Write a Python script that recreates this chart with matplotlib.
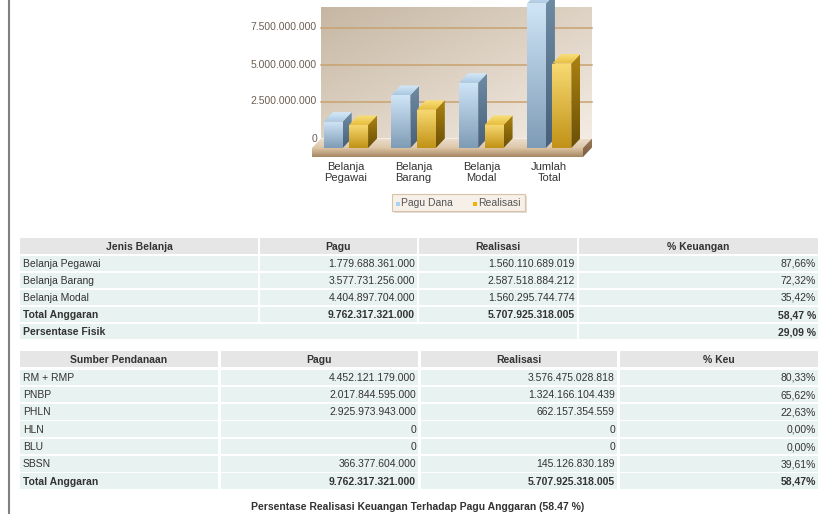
import numpy as np
import matplotlib.pyplot as plt
from matplotlib.patches import Rectangle, Polygon
from matplotlib.colors import to_rgb

plt.rcParams['font.family'] = ['Liberation Sans', 'DejaVu Sans']

# chart data (chart values are the table values / 1000)
categories = ['Belanja\nPegawai', 'Belanja\nBarang', 'Belanja\nModal', 'Jumlah\nTotal']
pagu_dana = [1779688361, 3577731256, 4404897704, 9762317321]
realisasi = [1560110689, 2587518884, 1560295745, 5707925318]
y_ticks = [0, 2500000000, 5000000000, 7500000000]
series_names = ['Pagu Dana', 'Realisasi']

# table 1
t1_header = ['Jenis Belanja', 'Pagu', 'Realisasi', '% Keuangan']
t1_jenis = ['Belanja Pegawai', 'Belanja Barang', 'Belanja Modal']
t1_pagu = ['1.779.688.361.000', '3.577.731.256.000', '4.404.897.704.000']
t1_real = ['1.560.110.689.019', '2.587.518.884.212', '1.560.295.744.774']
t1_pct = ['87,66%', '72,32%', '35,42%']
t1_total = ['Total Anggaran', '9.762.317.321.000', '5.707.925.318.005', '58,47 %']
t1_fisik = ['Persentase Fisik', '29,09 %']

# table 2
t2_header = ['Sumber Pendanaan', 'Pagu', 'Realisasi', '% Keu']
t2_sumber = ['RM + RMP', 'PNBP', 'PHLN', 'HLN', 'BLU', 'SBSN']
t2_pagu = ['4.452.121.179.000', '2.017.844.595.000', '2.925.973.943.000', '0', '0', '366.377.604.000']
t2_real = ['3.576.475.028.818', '1.324.166.104.439', '662.157.354.559', '0', '0', '145.126.830.189']
t2_pct = ['80,33%', '65,62%', '22,63%', '0,00%', '0,00%', '39,61%']
t2_total = ['Total Anggaran', '9.762.317.321.000', '5.707.925.318.005', '58,47%']
caption = 'Persentase Realisasi Keuangan Terhadap Pagu Anggaran (58.47 %)'

W, H = 837, 514
fig = plt.figure(figsize=(W / 100, H / 100), dpi=100)
bg = fig.add_axes([0, 0, 1, 1])
bg.set_xlim(0, W)
bg.set_ylim(H, 0)
bg.axis('off')

# ---- chart axes (front plane of the 3d look) ----
FRONT_L, FRONT_R, ZERO_Y = 312, 583, 148
AX_L, AX_R, AX_T, AX_B = 300, 605, 0, 160
n = len(categories)
ppx = (FRONT_R - FRONT_L) / n
ypp = 2.5e9 / 37
ax = fig.add_axes([AX_L / W, 1 - AX_B / H, (AX_R - AX_L) / W, (AX_B - AX_T) / H])
xlim = (-0.5 - (FRONT_L - AX_L) / ppx, n - 0.5 + (AX_R - FRONT_R) / ppx)
ylim = (-(AX_B - ZERO_Y) * ypp, (ZERO_Y - AX_T) * ypp)
ax.set_xlim(*xlim)
ax.set_ylim(*ylim)
ax.axis('off')

dx = 9 / ppx
dy = 9.5 * ypp
slab = 9 * ypp


def shade(verts, c_a, c_b, mode='v', z=1):
    poly = Polygon(verts, closed=True, facecolor='none', edgecolor='none', zorder=z)
    ax.add_patch(poly)
    xs = [v[0] for v in verts]
    ys = [v[1] for v in verts]
    a = np.array(to_rgb(c_a))
    b = np.array(to_rgb(c_b))
    t = np.linspace(0, 1, 64)
    if mode == 'v':
        img = (a * (1 - t)[:, None] + b * t[:, None])[:, None, :]
    elif mode == 'h':
        img = (a * (1 - t)[:, None] + b * t[:, None])[None, :, :]
    else:
        tt = (t[:, None] + t[None, :]) / 2
        img = a * (1 - tt)[..., None] + b * tt[..., None]
    im = ax.imshow(img, extent=(min(xs), max(xs), min(ys), max(ys)), origin='upper',
                   aspect='auto', interpolation='bilinear', zorder=z)
    im.set_clip_path(poly)


# back wall
x0w, x1w = -0.5 + dx, n - 0.5 + dx
wall_top = (ZERO_Y - 7) * ypp
shade([(x0w, dy), (x1w, dy), (x1w, wall_top), (x0w, wall_top)], '#c6b7a3', '#f4ece3', 'd', z=1)
for v in y_ticks[1:]:
    ax.plot([x0w, x1w], [v + dy, v + dy], color='#c9a26f', lw=1.1, zorder=2)
for v in y_ticks:
    ax.text(-0.5 + 5 / ppx, v + dy, f'{v:,.0f}'.replace(',', '.'), ha='right', va='center',
            fontsize=7.5, color='#6b5e52')

# floor
shade([(-0.5, 0), (n - 0.5, 0), (n - 0.5 + dx, dy), (-0.5 + dx, dy)], '#ecdfcf', '#dcc6a8', 'v', z=3)
shade([(-0.5, -slab), (n - 0.5, -slab), (n - 0.5, 0), (-0.5, 0)], '#dcc4a2', '#a68663', 'v', z=3)
shade([(n - 0.5, -slab), (n - 0.5 + dx, -slab + dy), (n - 0.5 + dx, dy), (n - 0.5, 0)],
      '#9c7c5c', '#7a5c40', 'v', z=3)

# bars
w = 19 / ppx
off = 12.7 / ppx
styles = [
    (pagu_dana, -off, ('#cfe5f7', '#7f9cb6'), ('#6f8ca5', '#48607a'), ('#d6eafa', '#a9c7e0')),
    (realisasi, off, ('#f8da72', '#c19216'), ('#ac8311', '#6b5005'), ('#f8e07e', '#e8bd3a')),
]
for i in range(n):
    for k, (vals, sh, c_front, c_side, c_top) in enumerate(styles):
        z = 5 + i + k * 0.5
        v = vals[i]
        x0 = i + sh - w / 2
        x1 = x0 + w
        shade([(x1, 0), (x1 + dx, dy), (x1 + dx, v + dy), (x1, v)], c_side[0], c_side[1], 'v', z)
        shade([(x0, v), (x1, v), (x1 + dx, v + dy), (x0 + dx, v + dy)], c_top[0], c_top[1], 'v', z)
        shade([(x0, 0), (x1, 0), (x1, v), (x0, v)], c_front[0], c_front[1], 'v', z + 0.1)
    ax.text(i, (ZERO_Y - 162) * ypp, categories[i], ha='center', va='top', fontsize=8,
            color='#333333', linespacing=1.1)

ax.set_xlim(*xlim)
ax.set_ylim(*ylim)

# legend
bg.add_patch(Rectangle((394, 196), 133, 17, facecolor='#e2ded9', edgecolor='none'))
bg.add_patch(Rectangle((392, 194), 133, 17, facecolor='#f7f0e8', edgecolor='#d9c2a8', lw=0.8))
for name, col, lx in zip(series_names, ['#a8d2f2', '#f0b400'], [396, 473]):
    bg.add_patch(Rectangle((lx, 201.5), 4, 4, facecolor=col, edgecolor='none'))
    bg.text(lx + 5, 203.5, name, ha='left', va='center', fontsize=7.5, color='#555555')

# left border line
bg.plot([9, 9], [0, H], color='#808080', lw=1.5)

# ---- tables ----
HEAD_BG = '#e6e6e6'
ROW_BG = '#e8f2f0'


def cell(x0, x1, yc, h, face, text, ha, bold=False):
    bg.add_patch(Rectangle((x0, yc - h / 2), x1 - x0, h, facecolor=face, edgecolor='none'))
    if text == '':
        return
    tx = {'left': x0 + 3, 'right': x1 - 2, 'center': (x0 + x1) / 2}[ha]
    bg.text(tx, yc + 0.5, text, ha=ha, va='center', fontsize=7.5, color='#333333',
            fontweight='bold' if bold else 'normal')


def draw_table(cols, head_y, row_y0, pitch, header, rows, bold_rows):
    for (c0, c1), txt in zip(cols, header):
        cell(c0, c1, head_y, 15.5, HEAD_BG, txt, 'center', True)
    for r, row in enumerate(rows):
        yc = row_y0 + pitch * r
        for c, ((c0, c1), txt) in enumerate(zip(cols, row)):
            cell(c0, c1, yc, 15.5, ROW_BG, txt, 'left' if c == 0 else 'right', r in bold_rows)


cols1 = [(20, 258), (260, 417), (419, 577), (579, 818)]
rows1 = [list(r) for r in zip(t1_jenis, t1_pagu, t1_real, t1_pct)] + [t1_total]
draw_table(cols1, 246, 263.3, 17.1, t1_header, rows1, {len(rows1) - 1})
yf = 263.3 + 17.1 * len(rows1)
cell(cols1[0][0], cols1[2][1], yf, 15.5, ROW_BG, t1_fisik[0], 'left', True)
cell(cols1[3][0], cols1[3][1], yf, 15.5, ROW_BG, t1_fisik[1], 'right', True)

cols2 = [(20, 218), (221, 418), (421, 617), (620, 818)]
rows2 = [list(r) for r in zip(t2_sumber, t2_pagu, t2_real, t2_pct)] + [t2_total]
draw_table(cols2, 359.2, 377.3, 17.3, t2_header, rows2, {len(rows2) - 1})

bg.text(418, 507, caption, ha='center', va='center', fontsize=7.5, fontweight='bold', color='#333333')

fig.savefig('out.png', dpi=100)
